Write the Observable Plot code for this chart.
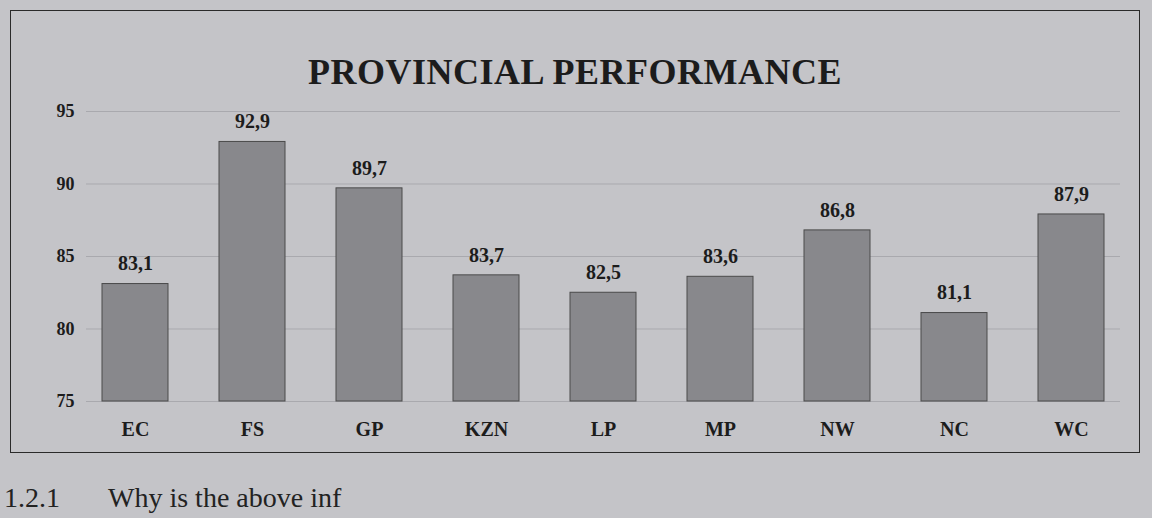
<!DOCTYPE html>
<html>
<head>
<meta charset="utf-8">
<script src="https://cdn.jsdelivr.net/npm/d3@7"></script>
<script src="https://cdn.jsdelivr.net/npm/@observablehq/plot@0.6"></script>
<style>
  html, body { margin: 0; padding: 0; }
  body { width: 1152px; height: 518px; overflow: hidden; background: #c4c4c8; position: relative;
         font-family: "Liberation Serif", "DejaVu Serif", serif; color: #1c1c1c; }
  #frame { position: absolute; left: 10px; top: 10px; width: 1130px; height: 443px;
           border: 1.5px solid #2a2a2a; box-sizing: border-box; }
  #title { position: absolute; left: 0; right: 0; top: 40px; text-align: center;
           font-size: 36px; font-weight: bold; letter-spacing: 0.5px; }
  #chart { position: absolute; left: 0; top: 70px; }
  #q { position: absolute; left: 4px; top: 482px; font-size: 28px; white-space: nowrap; color: #222; }
  #q span { margin-left: 48px; }
</style>
</head>
<body>
<div id="frame">
  <div id="title">PROVINCIAL PERFORMANCE</div>
  <div id="chart"></div>
</div>
<div id="q">1.2.1<span>Why is the above inf</span></div>
<script>
const provinces = ["EC", "FS", "GP", "KZN", "LP", "MP", "NW", "NC", "WC"];
const performance = [83.1, 92.9, 89.7, 83.7, 82.5, 83.6, 86.8, 81.1, 87.9];
const yTicks = [75, 80, 85, 90, 95];

const data = provinces.map((p, i) => ({province: p, value: performance[i]}));
const fmt = v => d3.format(".1f")(v).replace(".", ",");

const chart = Plot.plot({
  width: 1127,
  height: 360,
  marginLeft: 75,
  marginRight: 18,
  marginTop: 30,
  marginBottom: 40,
  style: {background: "transparent", fontFamily: "Liberation Serif, serif", color: "#1c1c1c"},
  x: {domain: provinces, paddingInner: 0.44, paddingOuter: 0.13, label: null},
  y: {domain: [75, 95], ticks: yTicks, label: null},
  marks: [
    Plot.gridY(yTicks, {stroke: "#a9a9ae", strokeOpacity: 1, strokeWidth: 1}),
    Plot.barY(data, {x: "province", y1: 75, y2: "value", fill: "#88888c", stroke: "#4a4a4a", strokeWidth: 1}),
    Plot.text(data, {x: "province", y: "value", text: d => fmt(d.value), dy: -20,
      fontSize: 20, fontWeight: "bold", fill: "#1c1c1c"}),
    Plot.axisY({ticks: yTicks, tickSize: 0, tickPadding: 12, fontSize: 18, fontWeight: "bold", label: null}),
    Plot.axisX({tickSize: 0, tickPadding: 20, fontSize: 20, fontWeight: "bold", label: null})
  ]
});
document.getElementById("chart").appendChild(chart);
</script>
</body>
</html>
